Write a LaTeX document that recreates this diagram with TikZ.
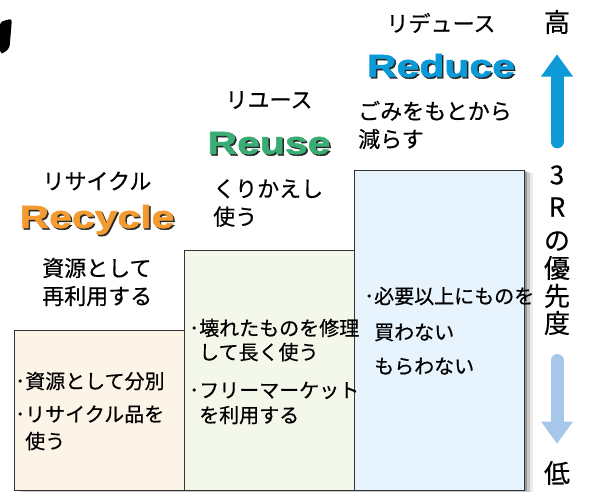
\documentclass[tikz,border=0pt]{standalone}
\usepackage{fontspec}
\newfontfamily\jp[FakeBold=0.5]{Noto Sans CJK JP}
\newfontfamily\lat[BoldFeatures={FakeBold=1.5}]{Liberation Sans}
\usetikzlibrary{arrows.meta,shadows}
\definecolor{recyc}{HTML}{F39A30}
\definecolor{reuse}{HTML}{3AAD74}
\definecolor{reduc}{HTML}{0B9AD8}
\definecolor{recycbg}{HTML}{FDF4E8}
\definecolor{reusebg}{HTML}{F4F8EA}
\definecolor{reducbg}{HTML}{E8F4FD}
\definecolor{arrowhi}{HTML}{0E9AD7}
\definecolor{arrowlo}{HTML}{A6C7EA}
\newcommand\wide[1]{\scalebox{1.28}[1]{#1}}
\tikzset{
  kana/.style={font=\jp\fontsize{22}{22}\selectfont},
  title/.style={anchor=base,inner sep=0pt,font=\lat\bfseries\fontsize{32}{32}\selectfont},
  desc/.style={anchor=west,align=left,inner sep=0pt,font=\jp\fontsize{22}{28}\selectfont},
  item/.style={anchor=base west,align=left,inner sep=0pt,font=\jp\fontsize{20}{25}\selectfont},
  stepbox/.style={draw=black!80,line width=0.8pt,anchor=north west,inner sep=0pt,
    minimum width=170pt,
    drop shadow={shadow xshift=3pt,shadow yshift=-1pt,opacity=.25,fill=black},
    drop shadow={shadow xshift=6pt,shadow yshift=-2pt,opacity=.15,fill=black},
    drop shadow={shadow xshift=9pt,shadow yshift=-3pt,opacity=.08,fill=black}},
  prio/.style={font=\jp\fontsize{26}{26}\selectfont},
  bigarrow/.style={line width=13pt,line cap=round,
    -{Triangle[width=32pt,length=22pt,line width=0pt]}}
}
\begin{document}
\begin{tikzpicture}[x=1pt,y=-1pt]
  \useasboundingbox (0,0) rectangle (594,492);
  \fill[rounded corners=3pt] (0,22) -- (12,18.5) -- (9.5,48) -- (4,53) -- (0,53.5) -- cycle;
  \foreach \Name/\Kana/\Col/\Top/\Cx/\Ky/\Ty [count=\Y] in
    {Recycle/リサイクル/recyc/330/97/181/228,
     Reuse/リユース/reuse/250/269/100/154,
     Reduce/リデュース/reduc/170/441/23/77}
   {\node[stepbox,fill=\Col bg,minimum height={(490-\Top)*1pt}] (B-\Y) at ({14+170*(\Y-1)},\Top) {};
    \node[kana] (K-\Y) at (\Cx,\Ky) {\Kana};
    \node[title,text=black!85] (S-\Y) at (\Cx+1.5,\Ty+1.5) {\wide{\Name}};
    \node[title,text=\Col] (T-\Y) at (\Cx,\Ty) {\wide{\Name}};}
  \node[desc] (D-1) at (42,282) {資源として\\再利用する};
  \node[desc] (D-2) at (213,203) {くりかえし\\使う};
  \node[desc] (D-3) at (358,125) {ごみをもとから\\減らす};
  \node[item] (I-1) at (15,448.6) {･資源として分別\\[8pt]･リサイクル品を\\[2pt]\phantom{･}使う};
  \node[item] (I-2) at (189,422.6) {･壊れたものを修理\\[-1pt]\phantom{･}して長く使う\\[13pt]･フリーマーケット\\\phantom{･}を利用する};
  \node[item] (I-3) at (364,373.6) {･必要以上にものを\\[11pt]\phantom{･}買わない\\[9pt]\phantom{･}もらわない};
  \node[prio] (hi) at (557,22) {高};
  \foreach \C/\P [count=\K] in {3/175,R/207,の/241,優/268,先/296,度/323}
    \node[prio] (P-\K) at (557,\P) {\C};
  \node[prio] (lo) at (557,473) {低};
  \draw[bigarrow,arrowhi,shorten <=20pt,shorten >=17pt] (P-1.north) -- (hi.south);
  \draw[bigarrow,arrowlo,shorten <=22pt,shorten >=14pt] (P-6.south) -- (lo.north);
\end{tikzpicture}
\end{document}
